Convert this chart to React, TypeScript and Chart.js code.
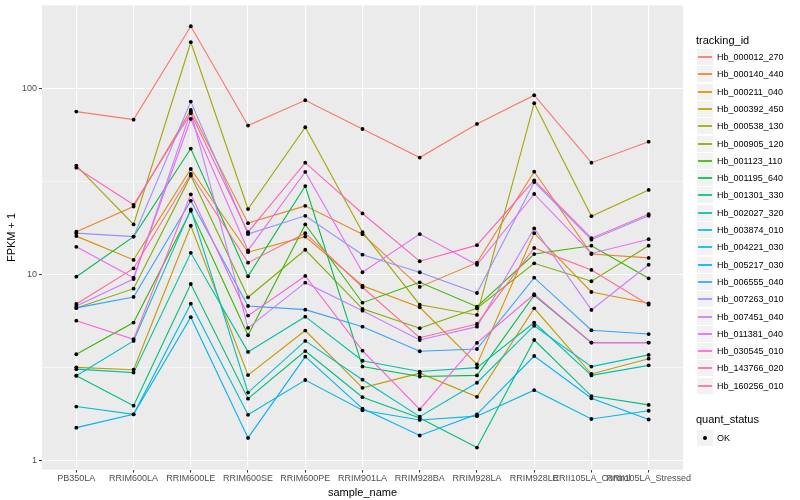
import React, { useEffect, useRef } from "react";
import { Chart, registerables } from "chart.js";

Chart.register(...registerables);

const categories = [
  "PB350LA", "RRIM600LA", "RRIM600LE", "RRIM600SE", "RRIM600PE", "RRIM901LA",
  "RRIM928BA", "RRIM928LA", "RRIM928LE", "RRII105LA_Control", "RRII105LA_Stressed",
];

const trackingIds = [
  "Hb_000012_270", "Hb_000140_440", "Hb_000211_040", "Hb_000392_450", "Hb_000538_130",
  "Hb_000905_120", "Hb_001123_110", "Hb_001195_640", "Hb_001301_330", "Hb_002027_320",
  "Hb_003874_010", "Hb_004221_030", "Hb_005217_030", "Hb_006555_040", "Hb_007263_010",
  "Hb_007451_040", "Hb_011381_040", "Hb_030545_010", "Hb_143766_020", "Hb_160256_010",
];

const seriesColors = [
  "#F8766D", "#EA8331", "#D89000", "#C09B00", "#A3A500",
  "#7CAE00", "#39B600", "#00BB4E", "#00BF7D", "#00C1A3",
  "#00BFC4", "#00BAE0", "#00B0F6", "#35A2FF", "#9590FF",
  "#C77CFF", "#E76BF3", "#FA62DB", "#FF62BC", "#FF6C91",
];

// FPKM + 1 per sample (order of categories)
const hb000012_270 = [75.0, 67.9, 215.4, 63.1, 86.3, 60.5, 42.5, 64.4, 91.8, 39.9, 51.7];
const hb000140_440 = [17.0, 23.2, 76.6, 18.9, 23.4, 16.5, 8.59, 11.6, 35.7, 12.9, 12.3];
const hb000211_040 = [16.1, 12.0, 36.9, 13.2, 16.0, 8.73, 6.68, 3.30, 16.7, 8.07, 7.02];
const hb000392_450 = [3.18, 3.09, 18.3, 2.89, 5.01, 2.47, 2.96, 2.21, 6.60, 2.93, 3.54];
const hb000538_130 = [38.5, 18.6, 176.8, 22.5, 61.8, 16.9, 6.90, 6.08, 83.2, 20.6, 28.5];
const hb000905_120 = [6.63, 8.41, 34.0, 7.56, 13.6, 6.55, 5.16, 6.60, 11.5, 9.22, 14.3];
const hb001123_110 = [3.74, 5.53, 22.0, 4.73, 18.6, 7.07, 9.10, 6.73, 12.9, 14.3, 9.56];
const hb001195_640 = [9.75, 16.0, 47.5, 9.80, 29.9, 3.21, 2.84, 2.88, 7.75, 4.32, 4.32];
const hb001301_330 = [2.87, 1.98, 8.91, 2.16, 3.89, 2.20, 1.70, 1.18, 4.46, 2.23, 2.00];
const hb002027_320 = [3.11, 2.98, 13.1, 3.85, 5.95, 3.45, 3.02, 3.17, 5.53, 2.88, 3.26];
const hb003874_010 = [2.87, 4.41, 22.4, 2.33, 4.41, 2.73, 1.73, 2.63, 5.32, 3.21, 3.71];
const hb004221_030 = [1.96, 1.78, 6.99, 1.77, 2.72, 1.87, 1.66, 1.74, 2.40, 1.68, 1.86];
const hb005217_030 = [1.51, 1.78, 5.91, 1.33, 3.63, 1.91, 1.37, 1.78, 3.66, 2.17, 1.67];
const hb006555_040 = [6.63, 7.59, 24.9, 6.79, 6.49, 5.26, 3.88, 3.99, 9.63, 5.03, 4.80];
const hb007263_010 = [16.7, 16.0, 84.9, 16.5, 20.7, 12.8, 10.3, 7.97, 31.4, 15.4, 20.7];
const hb007451_040 = [6.79, 9.48, 75.0, 5.18, 9.06, 6.41, 4.46, 5.26, 17.7, 6.47, 11.3];
const hb011381_040 = [14.1, 9.63, 68.5, 13.5, 35.6, 10.3, 16.5, 11.3, 27.1, 13.0, 15.5];
const hb030545_010 = [5.66, 4.50, 27.0, 6.03, 9.84, 3.91, 1.89, 4.30, 7.85, 4.32, 4.32];
const hb143766_020 = [37.5, 23.7, 73.5, 16.9, 39.9, 21.3, 11.8, 14.4, 32.1, 15.7, 21.1];
const hb160256_010 = [6.96, 10.8, 34.7, 11.6, 16.7, 8.56, 4.59, 5.44, 13.9, 10.6, 6.90];

const seriesValues = [
  hb000012_270, hb000140_440, hb000211_040, hb000392_450, hb000538_130,
  hb000905_120, hb001123_110, hb001195_640, hb001301_330, hb002027_320,
  hb003874_010, hb004221_030, hb005217_030, hb006555_040, hb007263_010,
  hb007451_040, hb011381_040, hb030545_010, hb143766_020, hb160256_010,
];

const yMajorTicks = [1, 10, 100];
const yMinorTicks = [3.1623, 31.623];

const FONT = '"Liberation Sans", Arial, Helvetica, sans-serif';

const panelBg = {
  id: "panelBg",
  beforeDraw(chart: any) {
    const { ctx, chartArea } = chart;
    ctx.save();
    ctx.fillStyle = "#EBEBEB";
    ctx.fillRect(chartArea.left, chartArea.top, chartArea.right - chartArea.left, chartArea.bottom - chartArea.top);
    ctx.restore();
  },
};

export default function App() {
  const ref = useRef<HTMLCanvasElement>(null);

  useEffect(() => {
    if (!ref.current) return;
    const lineSets = seriesValues.map((vals, i) => ({
      label: trackingIds[i],
      data: vals.map((v, j) => ({ x: j, y: v })),
      borderColor: seriesColors[i],
      backgroundColor: seriesColors[i],
      borderWidth: 1.1,
      pointRadius: 0,
      tension: 0,
      fill: false,
      order: seriesValues.length - i,
    }));
    const pointSet = {
      label: "OK",
      data: seriesValues.flatMap((vals) => vals.map((v, j) => ({ x: j, y: v }))),
      showLine: false,
      pointRadius: 1.9,
      pointBackgroundColor: "#000000",
      pointBorderWidth: 0,
      borderColor: "#000000",
      order: -1,
    };
    const chart = new Chart(ref.current, {
      type: "line",
      data: { datasets: [...lineSets, pointSet] as any },
      plugins: [panelBg],
      options: {
        responsive: false,
        animation: false,
        events: [],
        layout: { padding: { left: 0, right: 117, top: 5.3, bottom: 0 } },
        plugins: { legend: { display: false }, tooltip: { enabled: false } },
        scales: {
          x: {
            type: "linear",
            min: -0.6,
            max: 10.6,
            afterBuildTicks: (s: any) => {
              s.ticks = categories.map((_, i) => ({ value: i }));
            },
            afterFit: (s: any) => {
              s.height = 30.4;
            },
            ticks: {
              autoSkip: false,
              maxRotation: 0,
              minRotation: 0,
              padding: 1,
              color: "#4D4D4D",
              font: { family: FONT, size: 9 },
              callback: (_v: any, idx: number) => categories[idx],
            },
            grid: {
              color: "#FFFFFF",
              lineWidth: 1.1,
              drawTicks: true,
              tickLength: 3,
              tickColor: "#333333",
              tickWidth: 1,
            },
            border: { display: false },
            title: {
              display: true,
              text: "sample_name",
              color: "#000000",
              font: { family: FONT, size: 11 },
              padding: { top: 4, bottom: 0 },
            },
          },
          y: {
            type: "logarithmic",
            min: 0.899,
            max: 279,
            afterBuildTicks: (s: any) => {
              s.ticks = [...yMajorTicks, ...yMinorTicks]
                .sort((a, b) => a - b)
                .map((v) => ({ value: v }));
            },
            afterFit: (s: any) => {
              s.width = 42;
            },
            ticks: {
              padding: 2,
              color: "#4D4D4D",
              font: { family: FONT, size: 9, lineHeight: 0.5 },
              callback: (v: any) => (yMajorTicks.includes(v) ? String(v) : ""),
            },
            grid: {
              color: "#FFFFFF",
              lineWidth: (ctx: any) => (ctx.tick && yMajorTicks.includes(ctx.tick.value) ? 1.1 : 0.55),
              drawTicks: true,
              tickLength: 3,
              tickColor: (ctx: any) =>
                ctx.tick && yMajorTicks.includes(ctx.tick.value) ? "#333333" : "rgba(0,0,0,0)",
              tickWidth: 1,
            },
            border: { display: false },
            title: {
              display: true,
              text: "FPKM + 1",
              color: "#000000",
              font: { family: FONT, size: 11 },
              padding: { top: 5, bottom: 0 },
            },
          },
        },
      } as any,
    });
    return () => chart.destroy();
  }, []);

  const itemStep = 17.3;
  const firstCenter = 57;

  return (
    <div
      style={{
        position: "fixed",
        left: 0,
        top: 0,
        width: 800,
        height: 500,
        background: "#FFFFFF",
        fontFamily: FONT,
        overflow: "hidden",
      }}
    >
      <canvas ref={ref} width={800} height={500} style={{ position: "absolute", left: 0, top: 0, width: 800, height: 500 }} />
      <div style={{ position: "absolute", left: 696, top: 33, fontSize: 11, lineHeight: "14px", color: "#000" }}>
        tracking_id
      </div>
      {trackingIds.map((id, i) => {
        const cy = Math.round(firstCenter + i * itemStep);
        return (
          <React.Fragment key={id}>
            <div
              style={{
                position: "absolute",
                left: 697,
                top: cy - 8,
                width: 16,
                height: 16,
                background: "#F2F2F2",
              }}
            >
              <div
                style={{
                  position: "absolute",
                  left: 1,
                  width: 14,
                  top: 7,
                  height: 2,
                  background: seriesColors[i],
                  opacity: 0.85,
                }}
              />
            </div>
            <div
              style={{
                position: "absolute",
                left: 717,
                top: cy - 6,
                fontSize: 9,
                lineHeight: "12px",
                color: "#000",
                whiteSpace: "nowrap",
              }}
            >
              {id}
            </div>
          </React.Fragment>
        );
      })}
      <div style={{ position: "absolute", left: 696, top: 412, fontSize: 11, lineHeight: "14px", color: "#000" }}>
        quant_status
      </div>
      <div
        style={{
          position: "absolute",
          left: 697,
          top: 430,
          width: 16,
          height: 16,
          background: "#F2F2F2",
        }}
      >
        <div
          style={{
            position: "absolute",
            left: 6,
            top: 6,
            width: 4,
            height: 4,
            borderRadius: 2,
            background: "#000",
          }}
        />
      </div>
      <div style={{ position: "absolute", left: 717, top: 432, fontSize: 9, lineHeight: "12px", color: "#000" }}>
        OK
      </div>
    </div>
  );
}
